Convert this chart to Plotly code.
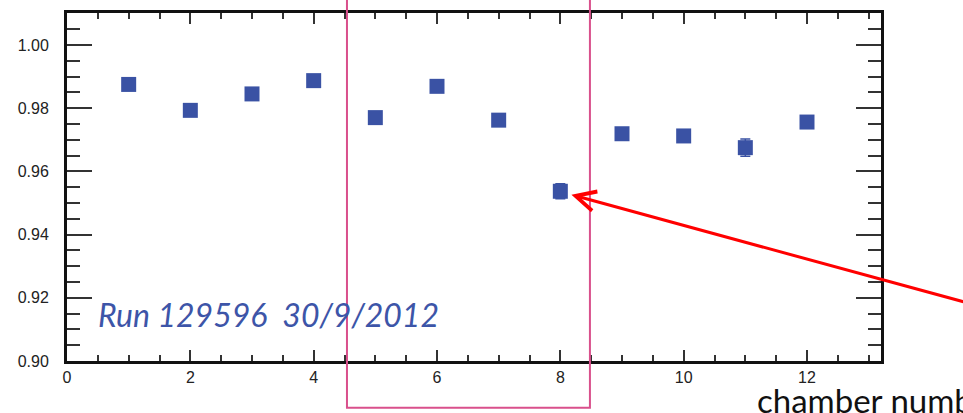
import plotly.graph_objects as go

chambers = [1, 2, 3, 4, 5, 6, 7, 8, 9, 10, 11, 12]
efficiency = [0.9875, 0.9793, 0.9845, 0.9887, 0.9770, 0.9869,
              0.9762, 0.9537, 0.9719, 0.9712, 0.9675, 0.9756]
errors = [0.0015, 0.0015, 0.0015, 0.0015, 0.0015, 0.0015,
          0.0015, 0.0024, 0.0015, 0.0015, 0.0027, 0.0015]
x_tick_vals = [0, 2, 4, 6, 8, 10, 12]
y_tick_vals = [0.90, 0.92, 0.94, 0.96, 0.98, 1.00]
y_tick_text = ["0.90", "0.92", "0.94", "0.96", "0.98", "1.00"]
run_label = "Run 129596\u00a0\u00a030/9/2012"
x_title = "chamber number"

marker_color = "#3a52a4"

fig = go.Figure()
fig.add_trace(go.Scatter(
    x=chambers, y=efficiency, mode="markers",
    marker=dict(symbol="square", size=15, color=marker_color,
                line=dict(width=0)),
    error_y=dict(type="data", array=errors, color=marker_color,
                 thickness=1.5, width=5),
    showlegend=False, hoverinfo="x+y",
))

tickfont = dict(family="Liberation Sans, Arial, sans-serif", size=16, color="#222")

fig.update_xaxes(
    range=[0, 13.2], showgrid=False, zeroline=False,
    showline=True, linecolor="#111", linewidth=3, mirror="allticks",
    ticks="inside", ticklen=11, tickwidth=1.5, tickcolor="#333",
    tickvals=x_tick_vals, tickfont=tickfont,
    minor=dict(ticks="inside", ticklen=6, tickwidth=1.5, tickcolor="#333", dtick=0.5, showgrid=False),
)
fig.update_yaxes(
    range=[0.90, 1.0101], showgrid=False, zeroline=False,
    showline=True, linecolor="#111", linewidth=3, mirror="allticks",
    ticks="inside", ticklen=25, tickwidth=1.5, tickcolor="#333",
    tickvals=y_tick_vals, ticktext=y_tick_text, tickfont=tickfont,
    ticklabelstandoff=12,
    minor=dict(ticks="inside", ticklen=13, tickwidth=1.5, tickcolor="#333", dtick=0.005, showgrid=False),
)

fig.add_annotation(
    text=run_label, x=0.47, y=0.9147, xref="x", yref="y",
    xanchor="left", yanchor="middle", showarrow=False,
    font=dict(family="Lato, Open Sans, sans-serif", size=32, color="#3d55a8", style="italic"),
)

fig.add_annotation(
    text=x_title, x=0.845, y=-0.113, xref="paper", yref="paper",
    xanchor="left", yanchor="middle", showarrow=False,
    font=dict(family="Lato, Open Sans, sans-serif", size=33, color="#111"),
)

# highlight box around chambers 5-8
fig.add_shape(
    type="rect", xref="x", yref="paper", x0=4.54, x1=8.48, y0=-0.134, y1=1.3,
    line=dict(color="#d9508c", width=2), fillcolor="rgba(0,0,0,0)", layer="above",
)

# red arrow pointing at chamber 8
fig.add_annotation(
    x=8.18, y=0.9526, xref="x", yref="y",
    ax=14.9, ay=0.9168, axref="x", ayref="y",
    text="", showarrow=True, arrowhead=5, arrowsize=1.3, arrowwidth=3,
    arrowcolor="#ff0000", standoff=0,
)

fig.update_layout(
    width=963, height=413,
    margin=dict(l=67, r=82, t=10, b=52),
    paper_bgcolor="white", plot_bgcolor="white",
)

fig.write_html(
    "out.html",
    config={"displayModeBar": False},
    post_script="document.body.style.margin='0px';document.body.style.overflow='hidden';",
)
